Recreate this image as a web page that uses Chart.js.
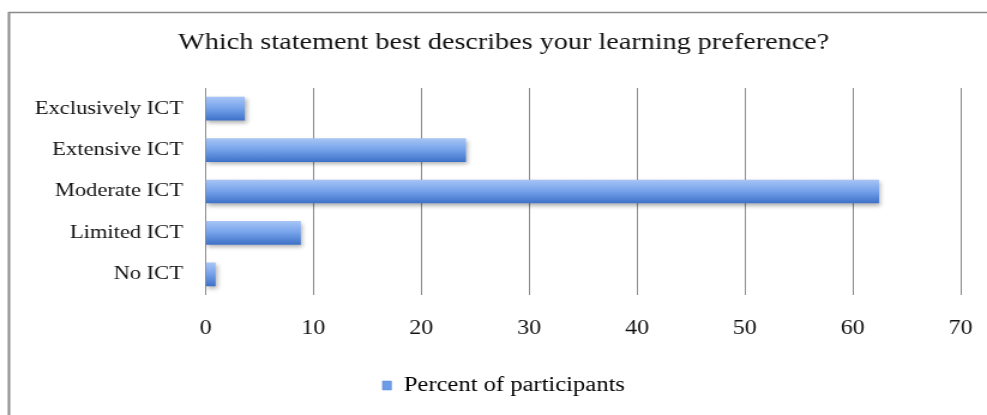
<!DOCTYPE html>
<html>
<head>
<meta charset="utf-8">
<script src="https://cdn.jsdelivr.net/npm/chart.js@4/dist/chart.umd.min.js"></script>
<style>
  html, body { margin: 0; padding: 0; background: #ffffff; }
</style>
</head>
<body>
<!-- drawn on a narrower canvas and widened to the page width -->
<canvas id="chart" width="823" height="415" style="display:block;width:987px;height:415px"></canvas>
<script>
// Survey answers
const categories = ['Exclusively ICT', 'Extensive ICT', 'Moderate ICT', 'Limited ICT', 'No ICT'];
const percentOfParticipants = [3.6, 24.1, 62.4, 8.8, 0.9];
const axisTicks = [0, 10, 20, 30, 40, 50, 60, 70];
const chartTitle = 'Which statement best describes your learning preference?';
const seriesName = 'Percent of participants';

const serifFont = '"Liberation Serif", "Times New Roman", serif';
const textColor = '#111111';

// Glossy blue fill for each bar, lighter at the top edge
function barFill(ctx) {
  const chart = ctx.chart;
  const yScale = chart.scales && chart.scales.y;
  if (!chart.chartArea || !yScale || ctx.dataIndex === undefined) return '#6a98e2';
  const yc = yScale.getPixelForValue(ctx.dataIndex);
  const g = chart.ctx.createLinearGradient(0, yc - 11.5, 0, yc + 11.5);
  g.addColorStop(0, '#a6c4f5');
  g.addColorStop(0.45, '#79a5ec');
  g.addColorStop(1, '#3e72c9');
  return g;
}

// Outer frame lines (left and top edges)
const framePlugin = {
  id: 'frame',
  beforeDraw(chart) {
    const c = chart.ctx;
    c.save();
    c.strokeStyle = '#8a8a8a';
    c.lineWidth = 1.3;
    c.beginPath();
    c.moveTo(7, 12.5);
    c.lineTo(chart.width, 12.5);
    c.stroke();
    c.lineWidth = 2;
    c.beginPath();
    c.moveTo(7.5, 12);
    c.lineTo(7.5, chart.height);
    c.stroke();
    c.restore();
  }
};

// Soft drop shadow under the bars
const barShadowPlugin = {
  id: 'barShadow',
  beforeDatasetsDraw(chart) {
    const c = chart.ctx;
    c.save();
    c.shadowColor = 'rgba(0,0,0,0.30)';
    c.shadowBlur = 4;
    c.shadowOffsetX = 1.5;
    c.shadowOffsetY = 2.5;
  },
  afterDatasetsDraw(chart) {
    chart.ctx.restore();
  }
};

new Chart(document.getElementById('chart'), {
  type: 'bar',
  data: {
    labels: categories,
    datasets: [{
      label: seriesName,
      data: percentOfParticipants,
      backgroundColor: barFill,
      borderWidth: 0,
      barThickness: 23
    }]
  },
  options: {
    indexAxis: 'y',
    responsive: false,
    devicePixelRatio: 1,
    animation: false,
    layout: { padding: { left: 26, right: 9, top: 0, bottom: 9.25 } },
    scales: {
      x: {
        min: 0,
        max: 70,
        afterBuildTicks(scale) {
          scale.ticks = axisTicks.map(v => ({ value: v }));
        },
        afterFit(scale) {
          scale.height = 70.25;
          scale.paddingRight = 22;
        },
        border: { display: false },
        grid: { color: '#8a8a8a', lineWidth: 1, drawTicks: false },
        ticks: {
          padding: 21.7,
          color: textColor,
          font: { family: serifFont, size: 20 }
        }
      },
      y: {
        afterFit(scale) { scale.width = 145.4; },
        border: { display: false },
        grid: { display: false, drawTicks: false },
        ticks: {
          padding: 18.8,
          color: textColor,
          font: { family: serifFont, size: 18.8 }
        }
      }
    },
    plugins: {
      title: {
        display: true,
        text: chartTitle,
        color: textColor,
        font: { family: serifFont, size: 23.5, weight: 'normal', lineHeight: 1.2 },
        padding: { top: 28.6, bottom: 31.2 }
      },
      legend: {
        display: true,
        position: 'bottom',
        labels: {
          color: textColor,
          font: { family: serifFont, size: 20.5 },
          boxWidth: 7.5,
          boxHeight: 9,
          padding: 10,
          generateLabels() {
            return [{
              text: seriesName,
              fillStyle: '#6d9be6',
              strokeStyle: '#5a88d8',
              lineWidth: 0.5,
              hidden: false,
              datasetIndex: 0
            }];
          }
        }
      },
      tooltip: { enabled: false }
    }
  },
  plugins: [framePlugin, barShadowPlugin]
});
</script>
</body>
</html>
